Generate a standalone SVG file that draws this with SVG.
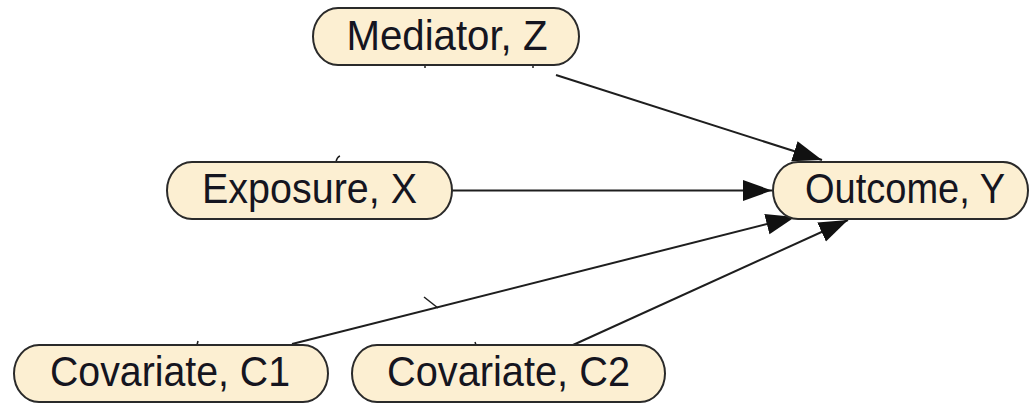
<svg xmlns="http://www.w3.org/2000/svg" width="1030" height="404" viewBox="0 0 1030 404">
  <style>
    .node rect { fill: #fcefd2; stroke: #2a2a2a; stroke-width: 2; }
    .node text { font-family: "Liberation Sans", Arial, sans-serif; font-size: 42px; fill: #15151f; text-anchor: middle; }
    .edge { stroke: #1e1e1e; stroke-width: 2; fill: none; marker-end: url(#arrow); }
    .tick { stroke: #1e1e1e; stroke-width: 1.5; fill: none; }
  </style>
  <defs>
    <marker id="arrow" markerUnits="userSpaceOnUse" markerWidth="31" markerHeight="22" refX="29" refY="10.5" orient="auto">
      <path d="M0,0 L29,10.5 L0,21 Z" fill="#111"/>
    </marker>
  </defs>
  <rect width="1030" height="404" fill="#ffffff"/>
  <g id="connectors">
    <line class="edge" x1="556" y1="75" x2="822" y2="160"/>
    <line class="edge" x1="452" y1="190.5" x2="772" y2="190.5"/>
    <line class="edge" x1="292" y1="344" x2="795" y2="217"/>
    <line class="edge" x1="573" y1="345" x2="848" y2="220"/>
    <line class="tick" x1="438" y1="308" x2="424" y2="297"/>
    <line class="tick" x1="425" y1="65" x2="425" y2="68"/>
    <line class="tick" x1="533" y1="65" x2="533" y2="68"/>
    <path class="tick" d="M336,162 Q337,157 340,156"/>
    <line class="tick" x1="197" y1="345" x2="198" y2="341"/>
    <line class="tick" x1="476" y1="345" x2="475" y2="342"/>
  </g>
  <g id="mediator" class="node">
    <rect x="313" y="8" width="266" height="57" rx="25" ry="28.5"/>
    <text x="447" y="50" textLength="201" lengthAdjust="spacingAndGlyphs">Mediator, Z</text>
  </g>
  <g id="exposure" class="node">
    <rect x="167" y="162" width="285" height="57" rx="25" ry="28.5"/>
    <text x="309.5" y="203" textLength="215" lengthAdjust="spacingAndGlyphs">Exposure, X</text>
  </g>
  <g id="outcome" class="node">
    <rect x="773" y="162" width="255" height="57" rx="25" ry="28.5"/>
    <text x="905" y="203" textLength="200" lengthAdjust="spacingAndGlyphs">Outcome, Y</text>
  </g>
  <g id="covariate-c1" class="node">
    <rect x="14" y="345" width="314" height="57" rx="25" ry="28.5"/>
    <text x="170" y="386" textLength="240" lengthAdjust="spacingAndGlyphs">Covariate, C1</text>
  </g>
  <g id="covariate-c2" class="node">
    <rect x="352" y="345" width="313" height="57" rx="25" ry="28.5"/>
    <text x="508.5" y="386" textLength="243" lengthAdjust="spacingAndGlyphs">Covariate, C2</text>
  </g>
</svg>
